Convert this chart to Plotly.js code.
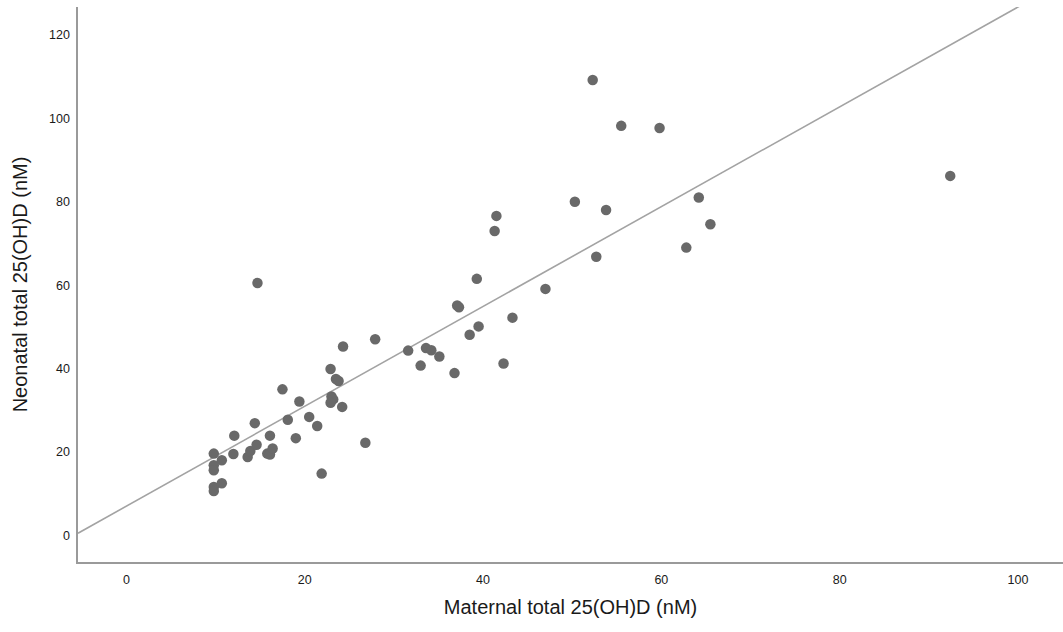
<!DOCTYPE html>
<html>
<head>
<meta charset="utf-8">
<script src="https://cdn.plot.ly/plotly-3.0.1.min.js"></script>
<style>html,body{margin:0;padding:0;background:#fff;}#chart{width:1063px;height:632px;}</style>
</head>
<body>
<div id="chart"></div>
<script>
// Maternal total 25(OH)D (nM)
const maternal = [
  9.8, 9.8, 9.8, 9.8, 9.8, 10.7, 10.7, 12.0, 12.1, 13.6,
  13.9, 14.4, 14.6, 14.7, 15.8, 16.1, 16.4, 16.1, 17.5, 18.1,
  19.0, 19.4, 20.5, 21.4, 21.9, 22.9, 23.0, 23.2, 22.9, 23.5,
  23.8, 24.2, 24.3, 26.8, 27.9, 31.6, 33.0, 33.6, 34.2, 35.1,
  36.8, 37.1, 37.3, 38.5, 39.3, 39.5, 41.3, 41.5, 42.3, 43.3,
  47.0, 50.3, 52.3, 52.7, 53.8, 55.5, 59.8, 62.8, 64.2, 65.5,
  92.4
];
// Neonatal total 25(OH)D (nM)
const neonatal = [
  19.6, 16.8, 15.6, 11.6, 10.6, 18.0, 12.5, 19.5, 23.9, 18.8,
  20.2, 26.9, 21.7, 60.5, 19.6, 19.4, 20.8, 23.9, 35.0, 27.7,
  23.3, 32.1, 28.4, 26.2, 14.8, 39.9, 33.3, 32.6, 31.8, 37.5,
  37.0, 30.8, 45.3, 22.2, 47.0, 44.3, 40.7, 44.9, 44.4, 42.9,
  38.9, 55.1, 54.7, 48.1, 61.5, 50.1, 73.0, 76.6, 41.2, 52.2,
  59.1, 80.0, 109.2, 66.8, 78.0, 98.2, 97.7, 69.0, 81.0, 74.6,
  86.2
];
// Fit line
const fitIntercept = 7.0;
const fitSlope = 1.197;
const xTicks = [0, 20, 40, 60, 80, 100];
const yTicks = [0, 20, 40, 60, 80, 100, 120];

const xRange = [-5.43, 105.05];
const yRange = [-6.4, 126.7];
const fitX = [xRange[0], xRange[1]];
const fitY = fitX.map(v => fitIntercept + fitSlope * v);

const traces = [
  {
    x: fitX, y: fitY, type: 'scatter', mode: 'lines',
    line: {color: '#a3a3a3', width: 1.6},
    hoverinfo: 'skip', showlegend: false
  },
  {
    x: maternal, y: neonatal, type: 'scatter', mode: 'markers',
    marker: {color: '#696969', size: 10.5, line: {width: 0}},
    showlegend: false
  }
];

const layout = {
  width: 1063, height: 632,
  margin: {l: 78, r: 0, t: 7, b: 70},
  paper_bgcolor: '#ffffff', plot_bgcolor: '#ffffff',
  font: {family: 'Liberation Sans, Arial, sans-serif', color: '#222'},
  showlegend: false,
  xaxis: {
    range: xRange, tickvals: xTicks, ticktext: xTicks.map(String),
    showgrid: false, zeroline: false, showline: true,
    linecolor: '#9a9a9a', linewidth: 1.6, ticks: '',
    tickfont: {size: 12.5, color: '#1a1a1a'}, ticklabelstandoff: 5,
    title: {text: 'Maternal total 25(OH)D (nM)', font: {size: 20, color: '#1a1a1a'}, standoff: 14}
  },
  yaxis: {
    range: yRange, tickvals: yTicks, ticktext: yTicks.map(String),
    showgrid: false, zeroline: false, showline: true,
    linecolor: '#9a9a9a', linewidth: 1.6, ticks: '',
    tickfont: {size: 12.5, color: '#1a1a1a'}, ticklabelstandoff: 4,
    title: {text: 'Neonatal total 25(OH)D (nM)', font: {size: 20, color: '#1a1a1a'}, standoff: 16}
  }
};

Plotly.newPlot('chart', traces, layout, {displayModeBar: false, staticPlot: true});
</script>
</body>
</html>
